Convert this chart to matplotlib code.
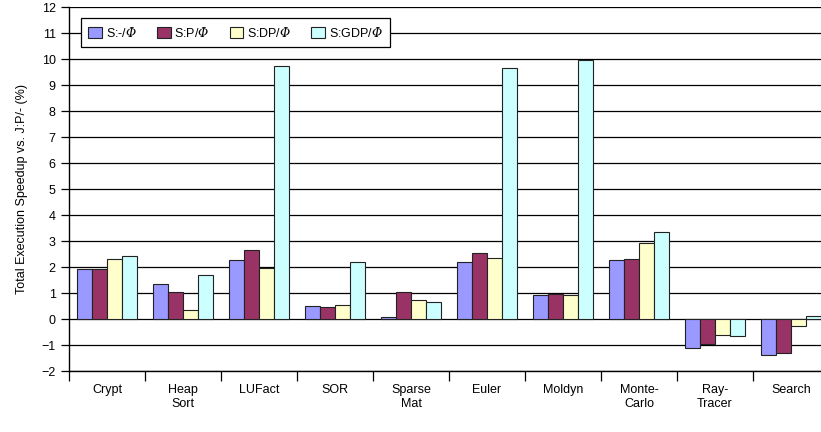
import numpy as np
import matplotlib
matplotlib.use("Agg")
import matplotlib.pyplot as plt

plt.rcParams['font.family'] = ['Liberation Sans', 'DejaVu Sans']
# the phi in the legend is an italic serif glyph
plt.rcParams['mathtext.fontset'] = 'custom'
plt.rcParams['mathtext.it'] = 'DejaVu Serif:italic'
plt.rcParams['mathtext.rm'] = 'DejaVu Serif:italic'
plt.rcParams['mathtext.sf'] = 'DejaVu Serif:italic'

categories = ['Crypt', 'Heap\nSort', 'LUFact', 'SOR', 'Sparse\nMat', 'Euler',
              'Moldyn', 'Monte-\nCarlo', 'Ray-\nTracer', 'Search']
series_names = [r'S:-/$Φ$', r'S:P/$Φ$', r'S:DP/$Φ$', r'S:GDP/$Φ$']

s_none = [1.92, 1.35, 2.29, 0.51, 0.08, 2.20, 0.93, 2.29, -1.10, -1.36]
s_p = [1.92, 1.06, 2.65, 0.46, 1.05, 2.54, 0.96, 2.33, -0.96, -1.28]
s_dp = [2.31, 0.35, 1.96, 0.56, 0.73, 2.37, 0.93, 2.92, -0.59, -0.26]
s_gdp = [2.43, 1.72, 9.75, 2.22, 0.67, 9.68, 9.98, 3.35, -0.63, 0.14]

colors = ['#9999FF', '#993366', '#FFFFCC', '#CCFFFF']

fig = plt.figure(figsize=(8.21, 4.32), dpi=100)
# axes extends slightly past the right edge like the original (cropped)
ax = fig.add_axes([69 / 821, 1 - 371.3 / 432, 760 / 821, 364 / 432])

x = np.arange(len(categories))
w = 0.2
for i, (vals, c, name) in enumerate(zip([s_none, s_p, s_dp, s_gdp], colors, series_names)):
    ax.bar(x + (i - 1.5) * w, vals, w, color=c, edgecolor='#222222',
           linewidth=0.8, label=name, zorder=3)

ax.set_xlim(-0.5, len(categories) - 0.5)
ax.set_ylim(-2, 12)
ax.set_yticks(range(-2, 13))
ax.yaxis.grid(True, color='black', linewidth=0.9, zorder=0)
ax.set_axisbelow(True)

ax.set_xticks(x)
ax.set_xticklabels(categories, fontsize=9, va='top')
ax.tick_params(axis='x', length=0, pad=9)
ax.set_xticks(np.arange(len(categories) + 1) - 0.5, minor=True)
ax.tick_params(axis='x', which='minor', length=7, width=0.9, direction='out')
ax.tick_params(axis='y', labelsize=9, length=6, width=0.9, direction='out')

for s in ['top', 'right']:
    ax.spines[s].set_visible(False)
ax.spines['left'].set_linewidth(1.0)
ax.spines['bottom'].set_linewidth(1.0)

ax.set_ylabel('Total Execution Speedup vs. J:P/- (%)', fontsize=9, labelpad=10)

leg = ax.legend(loc='upper left', bbox_to_anchor=(0.0154, 0.9698), ncol=4,
                fontsize=9, frameon=True, fancybox=False, framealpha=1,
                edgecolor='black', handlelength=1.1, handleheight=1.0,
                handletextpad=0.3, columnspacing=1.6, borderpad=0.6,
                borderaxespad=0)
leg.get_frame().set_linewidth(0.9)
leg.set_zorder(5)

fig.savefig('out.png', dpi=100)
